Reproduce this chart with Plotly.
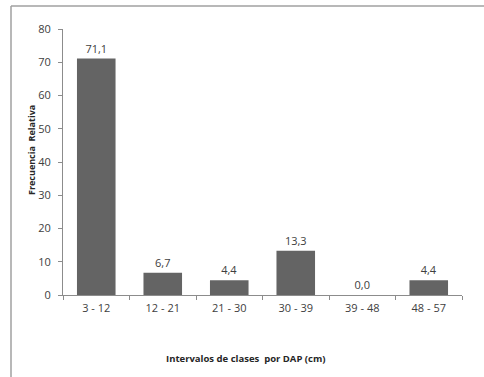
import plotly.graph_objects as go

# Diameter-class intervals (DAP, cm) and relative frequency (%)
clases = ["3 - 12", "12 - 21", "21 - 30", "30 - 39", "39 - 48", "48 - 57"]
frecuencia = [71.1, 6.7, 4.4, 13.3, 0.0, 4.4]
y_ticks = [0, 10, 20, 30, 40, 50, 60, 70, 80]

W, H = 484, 377
ml, mr, mt, mb = 63, 22, 29, 82
pw, ph = W - ml - mr, H - mt - mb

def px_x(p):
    return (p - ml) / pw

def px_y(p):
    return (H - mb - p) / ph

fig = go.Figure(
    go.Bar(
        x=clases,
        y=frecuencia,
        width=0.58,
        marker=dict(color="#646464", line=dict(width=0)),
        texttemplate="%{y:.1f}",
        textposition="outside",
        textfont=dict(family="Open Sans", size=11, color="#404040"),
        cliponaxis=False,
        hoverinfo="skip",
    )
)

axis_font = dict(family="Open Sans", size=11, color="#404040")

fig.update_layout(
    width=W,
    height=H,
    margin=dict(l=ml, r=mr, t=mt, b=mb),
    paper_bgcolor="white",
    plot_bgcolor="white",
    separators=",.",
    showlegend=False,
    bargap=0.42,
    xaxis=dict(
        type="category",
        tickson="boundaries",
        ticks="outside",
        ticklen=4,
        tickcolor="#8c8c8c",
        showline=True,
        linecolor="#8c8c8c",
        linewidth=1,
        showgrid=False,
        tickfont=axis_font,
        ticklabelstandoff=3,
        fixedrange=True,
    ),
    yaxis=dict(
        range=[0, 80],
        tickvals=y_ticks,
        ticks="outside",
        ticklen=4,
        tickcolor="#8c8c8c",
        showline=True,
        linecolor="#8c8c8c",
        linewidth=1,
        showgrid=False,
        zeroline=False,
        tickfont=axis_font,
        ticklabelstandoff=5,
        fixedrange=True,
    ),
    annotations=[
        dict(
            text="<b>Intervalos de clases  por DAP (cm)</b>",
            xref="paper", yref="paper",
            x=px_x(246), y=px_y(358),
            xanchor="center", yanchor="middle",
            showarrow=False,
            font=dict(family="Open Sans", size=9.5, color="#262626"),
        ),
        dict(
            text="<b>Frecuencia  Relativa</b>",
            xref="paper", yref="paper",
            x=px_x(31), y=px_y(150),
            xanchor="center", yanchor="middle",
            textangle=-90,
            showarrow=False,
            font=dict(family="Open Sans", size=9, color="#262626"),
        ),
    ],
    shapes=[
        dict(type="line", xref="paper", yref="paper",
             x0=px_x(11), x1=px_x(W + 2), y0=px_y(6), y1=px_y(6),
             line=dict(color="#a0a0a0", width=1.5)),
        dict(type="line", xref="paper", yref="paper",
             x0=px_x(11), x1=px_x(11), y0=px_y(6), y1=px_y(H + 2),
             line=dict(color="#a0a0a0", width=1.5)),
    ],
)

fig.write_html("out.html")
